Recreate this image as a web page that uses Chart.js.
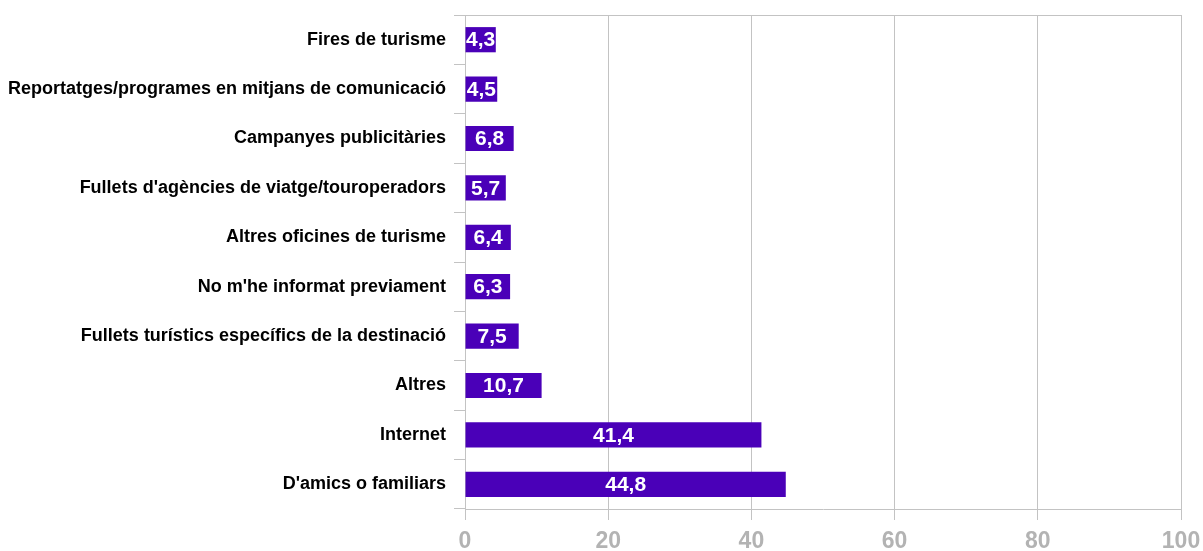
<!DOCTYPE html>
<html>
<head>
<meta charset="utf-8">
<script src="https://cdn.jsdelivr.net/npm/chart.js@4/dist/chart.umd.min.js"></script>
<style>
  html, body { margin: 0; padding: 0; background: #fff; }
  #wrap { width: 1203px; height: 551px; }
</style>
</head>
<body>
<div id="wrap"><canvas id="c" width="1203" height="551"></canvas></div>
<script>
// categories top to bottom
const categories = [
  'Fires de turisme',
  'Reportatges/programes en mitjans de comunicació',
  'Campanyes publicitàries',
  "Fullets d'agències de viatge/touroperadors",
  'Altres oficines de turisme',
  "No m'he informat previament",
  'Fullets turístics específics de la destinació',
  'Altres',
  'Internet',
  "D'amics o familiars",
];
const values = [4.3, 4.5, 6.8, 5.7, 6.4, 6.3, 7.5, 10.7, 41.4, 44.8];
const xTicks = [0, 20, 40, 60, 80, 100];

const BAR_COLOR  = '#4a00b8';
const GRID_COLOR = '#c3c3c3';
const TICK_TEXT  = '#b3b3b3';
const FONT = '"Liberation Sans", Arial, sans-serif';

// value labels in the middle of each bar, comma decimal
const barLabels = {
  id: 'barLabels',
  afterDatasetsDraw(chart) {
    const ctx = chart.ctx;
    const meta = chart.getDatasetMeta(0);
    ctx.save();
    ctx.fillStyle = '#ffffff';
    ctx.font = 'bold 21px ' + FONT;
    ctx.textAlign = 'center';
    ctx.textBaseline = 'middle';
    meta.data.forEach((bar, i) => {
      const cx = (bar.x + bar.base) / 2;
      ctx.fillText(values[i].toFixed(1).replace('.', ','), cx, bar.y + 1);
    });
    ctx.restore();
  },
};

// top border of the plot box
const topBorder = {
  id: 'topBorder',
  beforeDatasetsDraw(chart) {
    const { ctx, chartArea } = chart;
    ctx.save();
    ctx.strokeStyle = GRID_COLOR;
    ctx.lineWidth = 1;
    ctx.beginPath();
    ctx.moveTo(chartArea.left, chartArea.top + 0.5);
    ctx.lineTo(chartArea.right, chartArea.top + 0.5);
    ctx.stroke();
    ctx.restore();
  },
};

new Chart(document.getElementById('c'), {
  type: 'bar',
  data: {
    labels: categories,
    datasets: [{
      data: values,
      backgroundColor: BAR_COLOR,
      borderWidth: 0,
      categoryPercentage: 1.0,
      barPercentage: 0.51,
    }],
  },
  options: {
    indexAxis: 'y',
    responsive: false,
    animation: false,
    layout: { padding: { top: 15, right: 22, left: 0, bottom: 0 } },
    plugins: { legend: { display: false }, tooltip: { enabled: false } },
    scales: {
      x: {
        min: 0,
        max: 100,
        afterBuildTicks: (axis) => { axis.ticks = xTicks.map(v => ({ value: v })); },
        afterFit: (axis) => {
          axis.height = 42;
          axis.paddingLeft = 0;
          axis.paddingRight = 0;
        },
        grid: { color: GRID_COLOR, tickLength: 11, lineWidth: 1 },
        border: { color: GRID_COLOR },
        ticks: {
          color: TICK_TEXT,
          padding: 8,
          font: { family: FONT, size: 23, weight: 'bold' },
        },
      },
      y: {
        afterFit: (axis) => {
          axis.width = 465;
          axis.paddingTop = 0;
          axis.paddingBottom = 0;
        },
        grid: { drawOnChartArea: false, tickLength: 11, color: GRID_COLOR, offset: true },
        border: { color: GRID_COLOR },
        ticks: {
          color: '#000000',
          padding: 8,
          autoSkip: false,
          font: { family: FONT, size: 18, weight: 'bold' },
        },
      },
    },
  },
  plugins: [topBorder, barLabels],
});
</script>
</body>
</html>
